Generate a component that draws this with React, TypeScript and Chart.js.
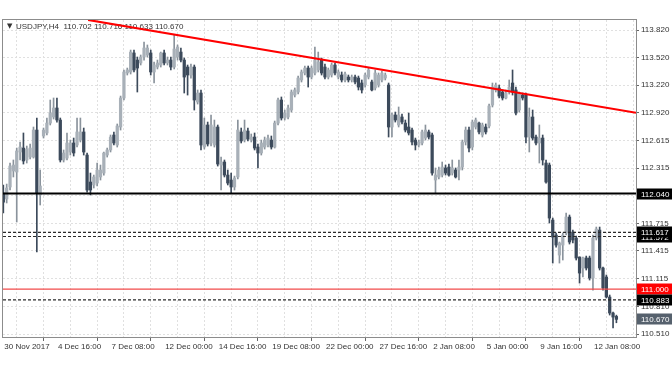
import React, { useEffect, useRef } from 'react';
import { Chart, registerables } from 'chart.js';

Chart.register(...registerables);

// ---- Candle data (USDJPY H4) ----
const OPEN = [
  112.045, 111.980, 112.111, 112.285, 112.274, 112.492, 112.535, 112.405, 112.437, 112.437,
  112.731, 112.024, 112.666, 112.699, 112.807, 112.873, 112.971, 112.840, 112.405, 112.426,
  112.492, 112.590, 112.568, 112.622, 112.710, 112.459, 112.165, 112.133, 112.154, 112.220,
  112.263, 112.459, 112.514, 112.677, 112.568, 112.764, 113.080, 113.352, 113.363, 113.570,
  113.493, 113.461, 113.526, 113.548, 113.570, 113.363, 113.417, 113.439, 113.570, 113.461,
  113.493, 113.417, 113.526, 113.580, 113.493, 113.417, 113.330, 113.417, 113.036, 113.134,
  112.546, 112.786, 112.590, 112.568, 112.764, 112.350, 112.383, 112.241, 112.187, 112.111,
  112.220, 112.710, 112.622, 112.720, 112.622, 112.655, 112.546, 112.481, 112.546, 112.568,
  112.622, 112.546, 112.807, 113.058, 112.862, 112.873, 112.949, 113.112, 113.145, 113.276,
  113.352, 113.406, 113.308, 113.352, 113.385, 113.493, 113.417, 113.308, 113.330, 113.439,
  113.308, 113.330, 113.276, 113.308, 113.276, 113.308, 113.297, 113.243, 113.221, 113.308,
  113.254, 113.189, 113.221, 113.276, 113.297, 113.221, 112.764, 112.895, 112.786, 112.873,
  112.807, 112.764, 112.731, 112.622, 112.568, 112.590, 112.644, 112.710, 112.677, 112.187,
  112.220, 112.241, 112.318, 112.328, 112.263, 112.296, 112.296, 112.328, 112.601, 112.731,
  112.546, 112.764, 112.807, 112.677, 112.764, 112.775, 113.003, 113.167, 113.189, 113.145,
  113.080, 113.145, 113.243, 113.167, 112.949, 113.112, 113.112, 112.655, 112.873, 112.655,
  112.590, 112.644, 112.372, 112.350, 111.751, 111.588, 111.370, 111.479, 111.610, 111.784,
  111.620, 111.555, 111.349, 111.229, 111.338, 111.338, 111.120, 111.555, 111.642, 111.229,
  111.131, 110.913, 110.739, 110.702,
];
const HIGH = [
  112.133, 112.143, 112.372, 112.405, 112.535, 112.601, 112.699, 112.557, 112.579, 112.764,
  112.862, 112.296, 112.753, 112.862, 113.058, 113.080, 113.080, 112.862, 112.514, 112.699,
  112.622, 112.644, 112.862, 112.862, 112.753, 112.481, 112.263, 112.241, 112.372, 112.350,
  112.492, 112.535, 112.677, 112.710, 112.797, 113.101, 113.385, 113.406, 113.602, 113.602,
  113.526, 113.548, 113.689, 113.657, 113.602, 113.472, 113.493, 113.580, 113.602, 113.526,
  113.526, 113.766, 113.657, 113.624, 113.515, 113.439, 113.450, 113.439, 113.167, 113.167,
  112.862, 112.818, 112.895, 112.840, 112.786, 112.437, 112.405, 112.296, 112.263, 112.230,
  112.840, 112.753, 112.840, 112.753, 112.688, 112.699, 112.579, 112.622, 112.655, 112.677,
  112.666, 112.829, 113.080, 113.091, 112.949, 113.003, 113.167, 113.189, 113.319, 113.385,
  113.428, 113.428, 113.428, 113.635, 113.580, 113.515, 113.450, 113.406, 113.461, 113.461,
  113.385, 113.363, 113.363, 113.330, 113.330, 113.330, 113.319, 113.276, 113.352, 113.406,
  113.276, 113.385, 113.352, 113.374, 113.352, 113.243, 112.916, 112.927, 112.982, 112.905,
  112.840, 112.916, 112.753, 112.644, 112.622, 112.731, 112.786, 112.731, 112.699, 112.318,
  112.328, 112.383, 112.350, 112.361, 112.405, 112.318, 112.405, 112.622, 112.764, 112.764,
  112.840, 112.862, 112.818, 112.807, 112.797, 113.014, 113.243, 113.243, 113.221, 113.167,
  113.167, 113.276, 113.385, 113.199, 113.145, 113.134, 113.134, 112.971, 112.949, 112.677,
  112.786, 112.677, 112.405, 112.372, 111.773, 111.610, 111.512, 111.610, 111.828, 111.806,
  111.642, 111.577, 111.349, 111.349, 111.359, 111.359, 111.588, 111.675, 111.675, 111.240,
  111.153, 110.935, 110.750, 110.716,
];
const LOW = [
  111.828, 111.937, 112.078, 112.220, 111.730, 112.405, 112.361, 112.372, 112.416, 112.426,
  111.403, 111.915, 112.644, 112.677, 112.786, 112.851, 112.818, 112.383, 112.383, 112.405,
  112.459, 112.448, 112.546, 112.601, 112.459, 112.056, 112.024, 112.100, 112.122, 112.187,
  112.241, 112.437, 112.492, 112.568, 112.546, 112.731, 113.058, 113.330, 113.341, 113.363,
  113.145, 113.439, 113.493, 113.526, 113.330, 113.243, 113.396, 113.417, 113.439, 113.439,
  113.385, 113.396, 113.493, 113.472, 113.134, 113.112, 113.297, 112.949, 113.014, 112.514,
  112.524, 112.557, 112.557, 112.546, 112.339, 112.078, 112.220, 112.133, 112.045, 112.078,
  112.198, 112.590, 112.601, 112.612, 112.601, 112.514, 112.318, 112.459, 112.524, 112.546,
  112.524, 112.535, 112.786, 112.840, 112.840, 112.851, 112.927, 113.091, 113.123, 113.254,
  113.330, 113.199, 113.287, 113.330, 113.363, 113.330, 113.287, 113.287, 113.308, 113.330,
  113.287, 113.254, 113.254, 113.254, 113.254, 113.232, 113.167, 113.134, 113.199, 113.287,
  113.156, 113.167, 113.199, 113.254, 113.276, 112.655, 112.655, 112.818, 112.764, 112.797,
  112.710, 112.677, 112.568, 112.514, 112.546, 112.568, 112.622, 112.633, 112.241, 112.040,
  112.198, 112.220, 112.241, 112.230, 112.241, 112.209, 112.187, 112.296, 112.568, 112.492,
  112.514, 112.742, 112.688, 112.655, 112.688, 112.753, 112.982, 113.145, 113.080, 113.058,
  113.069, 113.123, 113.112, 112.895, 112.927, 113.058, 112.590, 112.492, 112.622, 112.568,
  112.372, 112.350, 112.154, 111.719, 111.283, 111.457, 111.283, 111.316, 111.588, 111.490,
  111.501, 111.316, 111.065, 111.131, 111.207, 111.098, 110.989, 111.534, 111.207, 110.989,
  110.902, 110.717, 110.576, 110.633,
];
const CLOSE = [
  111.947, 112.100, 112.339, 112.350, 112.503, 112.546, 112.394, 112.524, 112.535, 112.731,
  112.045, 112.122, 112.731, 112.807, 112.916, 112.971, 112.840, 112.405, 112.481, 112.590,
  112.590, 112.481, 112.710, 112.710, 112.492, 112.078, 112.078, 112.220, 112.296, 112.296,
  112.481, 112.514, 112.655, 112.590, 112.775, 113.080, 113.363, 113.385, 113.580, 113.385,
  113.406, 113.526, 113.624, 113.624, 113.363, 113.439, 113.461, 113.570, 113.461, 113.493,
  113.417, 113.613, 113.635, 113.493, 113.308, 113.330, 113.417, 113.058, 113.134, 112.568,
  112.786, 112.579, 112.786, 112.764, 112.361, 112.383, 112.241, 112.154, 112.111, 112.209,
  112.731, 112.612, 112.731, 112.633, 112.655, 112.535, 112.481, 112.590, 112.622, 112.644,
  112.546, 112.807, 113.058, 112.862, 112.916, 112.971, 113.145, 113.167, 113.297, 113.363,
  113.406, 113.308, 113.406, 113.493, 113.472, 113.352, 113.308, 113.385, 113.439, 113.352,
  113.363, 113.276, 113.341, 113.276, 113.308, 113.254, 113.199, 113.167, 113.330, 113.385,
  113.167, 113.352, 113.330, 113.352, 113.330, 112.764, 112.895, 112.840, 112.895, 112.818,
  112.731, 112.699, 112.601, 112.568, 112.601, 112.710, 112.731, 112.655, 112.263, 112.241,
  112.296, 112.328, 112.263, 112.241, 112.318, 112.220, 112.328, 112.601, 112.731, 112.535,
  112.818, 112.840, 112.710, 112.786, 112.710, 112.993, 113.199, 113.221, 113.101, 113.080,
  113.134, 113.199, 113.145, 112.916, 113.134, 113.080, 112.655, 112.873, 112.644, 112.590,
  112.644, 112.405, 112.165, 111.773, 111.566, 111.479, 111.501, 111.588, 111.784, 111.512,
  111.534, 111.338, 111.174, 111.338, 111.229, 111.120, 111.555, 111.653, 111.229, 111.011,
  110.913, 110.739, 110.695, 110.670,
];

// ---- Axes ----
const X_GRID = [0, 8, 16, 24, 32, 40, 48, 56, 64, 72, 80, 88, 96, 104, 112, 120, 128, 136, 144, 152, 160, 168, 176, 184];
const X_LABELS = [
  '30 Nov 2017', '4 Dec 16:00', '7 Dec 08:00', '12 Dec 00:00', '14 Dec 16:00', '19 Dec 08:00',
  '22 Dec 00:00', '27 Dec 16:00', '2 Jan 08:00', '5 Jan 00:00', '9 Jan 16:00', '12 Jan 08:00',
];
const Y_TICKS = [110.510, 110.810, 111.115, 111.415, 111.715, 112.015, 112.315, 112.615, 112.920, 113.220, 113.520, 113.820];
const X_MIN = -0.1;
const X_MAX = 188.85;
const Y_MIN = 110.478;
const Y_MAX = 113.929;

// ---- Drawn objects ----
const TREND_X = [25.3, 188.85];
const TREND_Y = [113.93, 112.92];
const LEVEL_SOLID = [112.040];
const LEVEL_RED = [111.000];
const LEVEL_DASHED = [111.617, 111.572, 110.883];
const TAG_VALUES = [112.040, 111.572, 111.617, 111.000, 110.883, 110.670];
const TAG_COLORS = ['#000000', '#000000', '#000000', '#ff0000', '#000000', '#56616d'];
const HEADER_SYMBOL = 'USDJPY,H4';
const HEADER_OHLC = ['110.702', '110.716', '110.633', '110.670'];

const FAMILY = '"Liberation Sans", Arial, sans-serif';
const BULL_BODY = '#a8b0b8';
const BULL_WICK = '#8a939c';
const BEAR_BODY = '#3c4a5b';
const BEAR_WICK = '#3c4a5b';
const GRID = '#e0e0e0';

export default function App() {
  const ref = useRef<HTMLCanvasElement | null>(null);

  useEffect(() => {
    document.body.style.margin = '0';
    const canvas = ref.current;
    if (!canvas) return;

    const up = (i: number) => CLOSE[i] >= OPEN[i];

    const levelDs = (v: number, color: string, width: number, dash: number[]) => ({
      type: 'line' as const,
      data: [{ x: X_MIN, y: v }, { x: X_MAX, y: v }],
      borderColor: color,
      borderWidth: width,
      borderDash: dash,
      pointRadius: 0,
      fill: false,
      tension: 0,
      order: 0,
    });

    const chrome = {
      id: 'chrome',
      beforeDatasetsDraw(chart: any) {
        const { ctx, chartArea } = chart;
        ctx.save();
        ctx.strokeStyle = '#8c8c8c';
        ctx.lineWidth = 1;
        ctx.strokeRect(chartArea.left - 0.5, chartArea.top - 0.5, chartArea.right - chartArea.left + 1, chartArea.bottom - chartArea.top + 1);
        ctx.fillStyle = '#333';
        ctx.textBaseline = 'middle';
        ctx.font = '7px "DejaVu Sans", sans-serif';
        ctx.fillText('▼', chartArea.left + 4, chartArea.top + 6.5);
        ctx.font = '8px ' + FAMILY;
        ctx.fillText(HEADER_SYMBOL + '  ' + HEADER_OHLC.join(' '), chartArea.left + 13, chartArea.top + 6.5);
        ctx.restore();
      },
      afterDraw(chart: any) {
        const { ctx, chartArea } = chart;
        const yScale = chart.scales.y;
        ctx.save();
        ctx.font = '8px ' + FAMILY;
        ctx.textBaseline = 'middle';
        TAG_VALUES.forEach((v, k) => {
          const py = Math.round(yScale.getPixelForValue(v));
          ctx.fillStyle = TAG_COLORS[k];
          ctx.fillRect(chartArea.right + 1, py - 5.5, chart.width - chartArea.right - 1, 11);
          ctx.fillStyle = '#ffffff';
          ctx.fillText(v.toFixed(3), chartArea.right + 5, py + 0.5);
        });
        ctx.restore();
      },
    };

    const chart = new Chart(canvas, {
      type: 'bar',
      data: {
        datasets: [
          {
            type: 'line',
            data: TREND_X.map((x, k) => ({ x, y: TREND_Y[k] })),
            borderColor: '#ff0000',
            borderWidth: 2,
            pointRadius: 0,
            fill: false,
            tension: 0,
            order: 0,
          } as any,
          ...LEVEL_SOLID.map((v) => levelDs(v, '#000000', 2, [])),
          ...LEVEL_RED.map((v) => levelDs(v, '#f24a4a', 1.3, [])),
          ...LEVEL_DASHED.map((v) => levelDs(v, '#2a2a2a', 1.2, [3, 2])),
          {
            type: 'bar',
            data: OPEN.map((_, i) => ({ x: i, y: [OPEN[i], CLOSE[i]] })),
            backgroundColor: (c: any) => (up(c.dataIndex) ? BULL_BODY : BEAR_BODY),
            barThickness: 2.6,
            minBarLength: 1,
            grouped: false,
            order: 1,
          } as any,
          {
            type: 'bar',
            data: OPEN.map((_, i) => ({ x: i, y: [LOW[i], HIGH[i]] })),
            backgroundColor: (c: any) => (up(c.dataIndex) ? BULL_WICK : BEAR_WICK),
            barThickness: 1,
            grouped: false,
            order: 2,
          } as any,
        ],
      },
      options: {
        responsive: false,
        animation: false,
        devicePixelRatio: 1,
        layout: { padding: { left: 3, top: 20, right: 0, bottom: 0 } },
        plugins: { legend: { display: false }, tooltip: { enabled: false } },
        events: [],
        scales: {
          x: {
            type: 'linear',
            position: 'bottom',
            min: X_MIN,
            max: X_MAX,
            offset: false,
            afterBuildTicks: (s: any) => {
              s.ticks = X_GRID.map((v) => ({ value: v }));
            },
            afterFit: (s: any) => {
              s.height = 35;
            },
            ticks: {
              autoSkip: false,
              maxRotation: 0,
              minRotation: 0,
              align: 'start',
              labelOffset: 1,
              padding: 1,
              color: '#333',
              font: { family: FAMILY, size: 8 },
              callback: (_v: any, index: number) => (index % 2 === 0 ? X_LABELS[index / 2] ?? '' : ''),
            },
            grid: {
              color: GRID,
              lineWidth: 1,
              drawTicks: true,
              tickLength: 4,
              tickColor: (c: any) => (c.index % 2 === 0 ? '#666' : 'rgba(0,0,0,0)'),
            },
            border: { display: false, dash: [2, 2] },
          },
          y: {
            type: 'linear',
            position: 'right',
            min: Y_MIN,
            max: Y_MAX,
            afterBuildTicks: (s: any) => {
              s.ticks = Y_TICKS.map((v) => ({ value: v }));
            },
            afterFit: (s: any) => {
              s.width = 36;
            },
            ticks: {
              autoSkip: false,
              padding: 2,
              color: '#333',
              font: { family: FAMILY, size: 8 },
              callback: (v: any) => Number(v).toFixed(3),
            },
            grid: {
              color: GRID,
              lineWidth: 1,
              drawTicks: true,
              tickLength: 3,
              tickColor: '#666',
            },
            border: { display: false, dash: [2, 2] },
          },
        },
      } as any,
      plugins: [chrome],
    });

    return () => chart.destroy();
  }, []);

  return <canvas ref={ref} width={672} height={372} style={{ display: 'block' }} />;
}
